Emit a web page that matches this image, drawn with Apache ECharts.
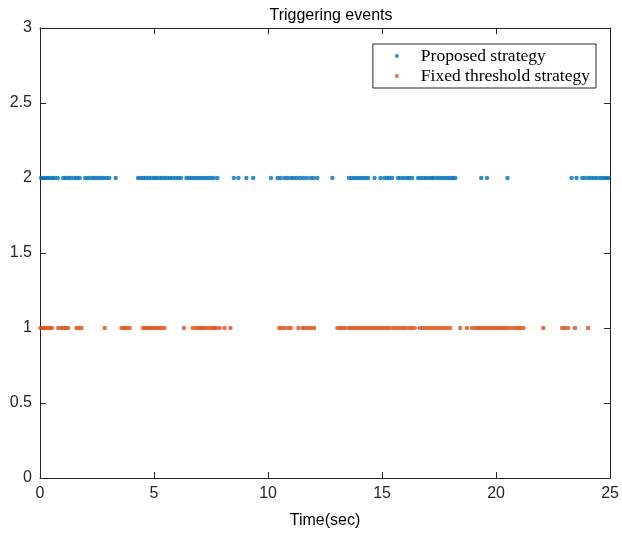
<!DOCTYPE html>
<html>
<head>
<meta charset="utf-8">
<script src="https://cdn.jsdelivr.net/npm/echarts@6/dist/echarts.min.js"></script>
<style>
  html, body { margin: 0; padding: 0; background: #fff; }
  #chart { width: 622px; height: 536px; }
</style>
</head>
<body>
<div id="chart"></div>
<script>
// event times (sec)
const proposedTimes = [
  0.05, 0.15, 0.25, 0.35, 0.45, 0.55, 0.65, 0.78,
  1.02, 1.12, 1.24, 1.36, 1.5, 1.62, 1.74,
  1.98, 2.1, 2.22, 2.34, 2.44, 2.56, 2.68, 2.8, 2.92, 3.04,
  3.32,
  4.3, 4.42, 4.52, 4.64, 4.76, 4.88, 5.0, 5.1, 5.22, 5.34, 5.46, 5.58, 5.7, 5.82, 5.94, 6.06, 6.18,
  6.42, 6.54, 6.66, 6.78, 6.9, 7.02, 7.14, 7.26, 7.38, 7.5, 7.62, 7.78,
  8.5, 8.7, 9.05, 9.35,
  10.13,
  10.42, 10.55, 10.72, 10.85, 11.0, 11.12, 11.25, 11.4, 11.55, 11.7, 11.87, 12.0, 12.16,
  12.82,
  13.55, 13.67, 13.79, 13.91, 14.03, 14.15, 14.27, 14.39,
  14.67,
  14.93, 15.1, 15.22, 15.32, 15.44,
  15.7, 15.82, 15.96, 16.1, 16.2, 16.32,
  16.58, 16.7, 16.82, 16.94, 17.06, 17.18, 17.26,
  17.41, 17.53, 17.65, 17.77, 17.89, 18.01, 18.11, 18.21,
  19.35, 19.6,
  20.5,
  23.31, 23.53,
  23.78, 23.9, 24.05, 24.17, 24.3, 24.42, 24.56, 24.68, 24.8, 24.92
];
const fixedTimes = [
  0.02, 0.12, 0.22, 0.32, 0.42, 0.52,
  0.8, 0.92, 1.04, 1.14, 1.24,
  1.6, 1.7, 1.82,
  2.84,
  3.57, 3.7, 3.8, 3.93,
  4.52, 4.62, 4.72, 4.82, 4.92, 5.02, 5.12, 5.22, 5.34, 5.46,
  6.31,
  6.7, 6.82, 6.94, 7.04, 7.14, 7.26, 7.38, 7.5, 7.62, 7.72,
  7.87, 8.09, 8.35,
  10.49, 10.6, 10.72, 10.88, 11.0,
  11.33,
  11.51, 11.62, 11.75, 11.88, 12.02,
  13.04, 13.16, 13.28, 13.4,
  13.55, 13.66, 13.77, 13.88, 13.99, 14.1, 14.21, 14.32, 14.43, 14.54, 14.65, 14.76, 14.87, 14.98, 15.09, 15.2, 15.3,
  15.44, 15.56, 15.68, 15.8, 15.92, 16.04, 16.18, 16.3, 16.43,
  16.65, 16.77, 16.89, 17.01, 17.13, 17.25, 17.37, 17.49, 17.61, 17.73, 17.85, 17.99,
  18.43,
  18.72, 18.94,
  19.09, 19.2, 19.31, 19.42, 19.53, 19.64, 19.75, 19.86, 19.97, 20.08, 20.19, 20.3, 20.42, 20.55, 20.69,
  20.83, 20.95, 21.07, 21.2,
  22.07,
  22.9, 23.02, 23.16,
  23.46,
  24.04
];
const proposedLevel = 2;
const fixedLevel = 1;
const seriesNames = ['Proposed strategy', 'Fixed threshold strategy'];
const xTicks = [0, 5, 10, 15, 20, 25];
const yTicks = [0, 0.5, 1, 1.5, 2, 2.5, 3];

const axisColor = '#262626';
const chart = echarts.init(document.getElementById('chart'));

const baseX = {
  type: 'value', min: 0, max: 25, interval: 5,
  axisLine: { show: true, onZero: false, lineStyle: { color: axisColor, width: 1 } },
  axisTick: { show: true, inside: true, length: 6, lineStyle: { color: axisColor } },
  splitLine: { show: false }
};
const baseY = {
  type: 'value', min: 0, max: 3, interval: 0.5,
  axisLine: { show: true, onZero: false, lineStyle: { color: axisColor, width: 1 } },
  axisTick: { show: true, inside: true, length: 6, lineStyle: { color: axisColor } },
  splitLine: { show: false }
};

chart.setOption({
  animation: false,
  backgroundColor: '#fff',
  title: {
    text: 'Triggering events',
    left: 326, top: 3, textAlign: 'center',
    textStyle: { fontFamily: 'Liberation Sans', fontSize: 16, fontWeight: 'normal', color: '#000' }
  },
  legend: {
    data: seriesNames,
    orient: 'vertical',
    right: 26, top: 44,
    icon: 'circle',
    itemWidth: 4, itemHeight: 4,
    itemGap: 2,
    padding: [3, 6, 3, 22],
    borderColor: '#262626', borderWidth: 1,
    backgroundColor: '#fff',
    textStyle: {
      fontFamily: 'Liberation Serif', fontSize: 17.5, lineHeight: 18,
      color: '#000', padding: [0, 0, 0, 17]
    }
  },
  grid: { left: 40, right: 10, top: 28, bottom: 58, containLabel: false },
  xAxis: [
    Object.assign({}, baseX, {
      position: 'bottom',
      name: 'Time(sec)', nameLocation: 'middle', nameGap: 35,
      nameTextStyle: { fontFamily: 'Liberation Sans', fontSize: 16, color: '#000' },
      axisLabel: {
        fontFamily: 'Liberation Sans', fontSize: 16, color: '#262626', margin: 8,
        formatter: v => (xTicks.includes(v) ? String(v) : '')
      }
    }),
    Object.assign({}, baseX, { position: 'top', axisLabel: { show: false } })
  ],
  yAxis: [
    Object.assign({}, baseY, {
      position: 'left',
      axisLabel: {
        fontFamily: 'Liberation Sans', fontSize: 16, color: '#262626', margin: 8,
        formatter: v => (yTicks.includes(v) ? String(v) : '')
      }
    }),
    Object.assign({}, baseY, { position: 'right', axisLabel: { show: false } })
  ],
  series: [
    {
      name: seriesNames[0], type: 'scatter', symbol: 'circle', symbolSize: 4.5,
      itemStyle: { color: '#0072BD' },
      data: proposedTimes.map(t => [t, proposedLevel])
    },
    {
      name: seriesNames[1], type: 'scatter', symbol: 'circle', symbolSize: 4.5,
      itemStyle: { color: '#D95319' },
      data: fixedTimes.map(t => [t, fixedLevel])
    }
  ]
});
</script>
</body>
</html>
